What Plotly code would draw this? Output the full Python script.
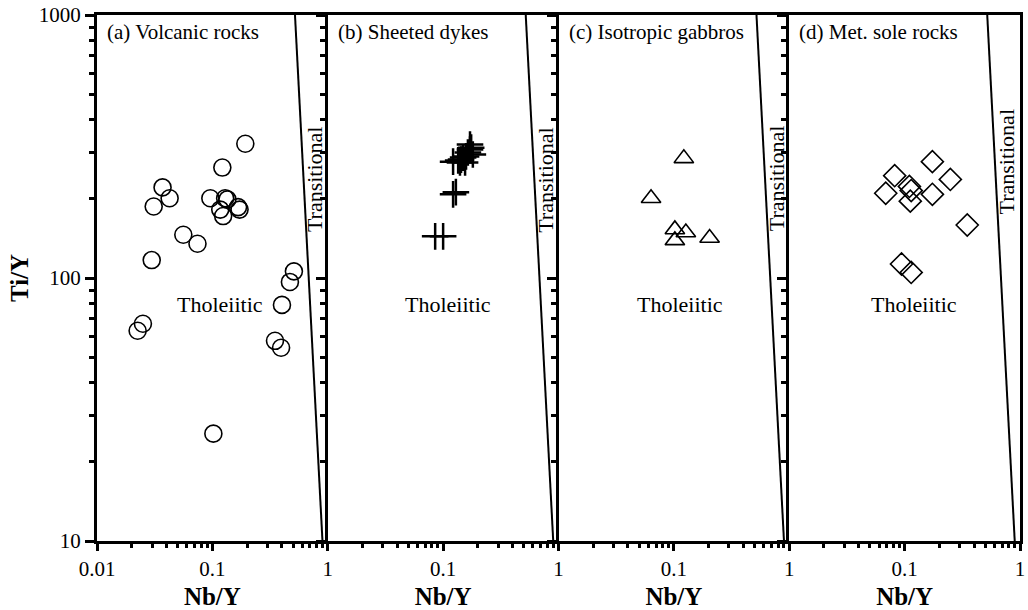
import math
import plotly.graph_objects as go
from plotly.subplots import make_subplots

# Nb/Y and Ti/Y ratios for each rock group
volcanic_nb_y = [0.193, 0.122, 0.037, 0.0426, 0.031, 0.056, 0.0743, 0.0298, 0.096, 0.117,
                 0.129, 0.135, 0.124, 0.167, 0.172, 0.509, 0.470, 0.401, 0.0250, 0.0225,
                 0.349, 0.394, 0.102]
volcanic_ti_y = [324, 263, 221, 201, 187, 146, 135, 117, 201, 182,
                 201, 199, 172, 186, 182, 106, 96.6, 79, 67, 63,
                 57.7, 54.3, 25.6]

dykes_nb_y = [0.0853, 0.100, 0.122, 0.129, 0.122, 0.135, 0.143, 0.149, 0.158, 0.164,
              0.171, 0.175, 0.171, 0.181, 0.155, 0.140]
dykes_ti_y = [144, 144, 208, 212, 277, 280, 282, 287, 290, 300,
              308, 313, 322, 295, 275, 275]

gabbro_nb_y = [0.122, 0.0634, 0.102, 0.127, 0.102, 0.204]
gabbro_ti_y = [285, 201, 153, 149, 139, 142]

sole_nb_y = [0.174, 0.082, 0.249, 0.0686, 0.110, 0.114, 0.112, 0.174, 0.349, 0.094, 0.114]
sole_ti_y = [277, 245, 237, 210, 223, 215, 196, 208, 159, 113, 105]

# Tholeiitic / Transitional boundary
boundary_nb_y = [0.52, 0.9]
boundary_ti_y = [1000, 10]

panel_titles = ["(a) Volcanic rocks", "(b) Sheeted dykes",
                "(c) Isotropic gabbros", "(d) Met. sole rocks"]
tholeiitic_left = [0.047, 0.0453, 0.046, 0.049]
transitional_y = [237, 237, 240, 277]

x_tickvals = [[0.01, 0.1, 1], [0.1, 1], [0.1, 1], [0.1, 1]]
x_ticktext = [["0.01", "0.1", "1"], ["0.1", "1"], ["0.1", "1"], ["0.1", "1"]]
x_minor = [0.02, 0.03, 0.04, 0.05, 0.06, 0.07, 0.08, 0.09,
           0.2, 0.3, 0.4, 0.5, 0.6, 0.7, 0.8, 0.9]
y_tickvals = [10, 100, 1000]
y_minor = [20, 30, 40, 50, 60, 70, 80, 90, 200, 300, 400, 500, 600, 700, 800, 900]

SERIF = "Liberation Serif"

groups = [
    (volcanic_nb_y, volcanic_ti_y, "circle-open", 17),
    (dykes_nb_y, dykes_ti_y, "cross-thin-open", 19),
    (gabbro_nb_y, gabbro_ti_y, "triangle-up-open", 17),
    (sole_nb_y, sole_ti_y, "diamond-open", 17),
]

fig = make_subplots(rows=1, cols=4, horizontal_spacing=0)

for i, (xs, ys, sym, size) in enumerate(groups):
    col = i + 1
    fig.add_trace(go.Scatter(x=boundary_nb_y, y=boundary_ti_y, mode="lines",
                             line=dict(color="black", width=2),
                             showlegend=False, hoverinfo="skip"), row=1, col=col)
    lw = 2.5 if sym.startswith("cross") else 1.6
    fig.add_trace(go.Scatter(x=xs, y=ys, mode="markers",
                             marker=dict(symbol=sym, size=size, color="black",
                                         line=dict(color="black", width=lw)),
                             showlegend=False), row=1, col=col)

    xref = "x" if col == 1 else f"x{col}"
    yref = "y" if col == 1 else f"y{col}"
    fig.add_annotation(x=-1.93, y=2.936, xref=xref, yref=yref, text=panel_titles[i],
                       showarrow=False, xanchor="left", yanchor="middle",
                       font=dict(family=SERIF, size=21, color="black"))
    fig.add_annotation(x=math.log10(tholeiitic_left[i]), y=1.898, xref=xref, yref=yref,
                       text="Tholeiitic", showarrow=False, xanchor="left",
                       font=dict(family=SERIF, size=22, color="black"))
    fig.add_annotation(x=math.log10(0.77), y=math.log10(transitional_y[i]),
                       xref=xref, yref=yref, text="Transitional", textangle=-90,
                       showarrow=False,
                       font=dict(family=SERIF, size=22, color="black"))

    fig.update_xaxes(type="log", range=[-2, 0], row=1, col=col,
                     tickvals=x_tickvals[i], ticktext=x_ticktext[i],
                     ticks="outside", ticklen=7, tickwidth=2.5, tickcolor="black",
                     minor=dict(tickvals=x_minor, ticks="outside", ticklen=4,
                                tickwidth=2.5, tickcolor="black", showgrid=False),
                     showline=True, linewidth=3, linecolor="black", mirror=True,
                     showgrid=False, zeroline=False,
                     tickfont=dict(family=SERIF, size=21, color="black"),
                     title=dict(text="<b>Nb/Y</b>", standoff=8,
                                font=dict(family=SERIF, size=25, color="black")))
    fig.update_yaxes(type="log", range=[1, 3], row=1, col=col,
                     tickvals=y_tickvals, ticktext=["10", "100", "1000"],
                     showticklabels=(col == 1),
                     ticks="outside", ticklen=9, tickwidth=2.5, tickcolor="black",
                     minor=dict(tickvals=y_minor, ticks="outside", ticklen=5,
                                tickwidth=2.5, tickcolor="black", showgrid=False),
                     showline=True, linewidth=3, linecolor="black",
                     mirror=(col == 4),
                     showgrid=False, zeroline=False,
                     tickfont=dict(family=SERIF, size=21, color="black"))

fig.update_yaxes(title=dict(text="<b>Ti/Y</b>", standoff=4,
                            font=dict(family=SERIF, size=25, color="black")),
                 row=1, col=1)

fig.update_layout(width=1028, height=610,
                  margin=dict(l=97, r=3, t=15, b=67),
                  paper_bgcolor="white", plot_bgcolor="white",
                  showlegend=False)

fig.write_html("out.html", config={"displayModeBar": False})
